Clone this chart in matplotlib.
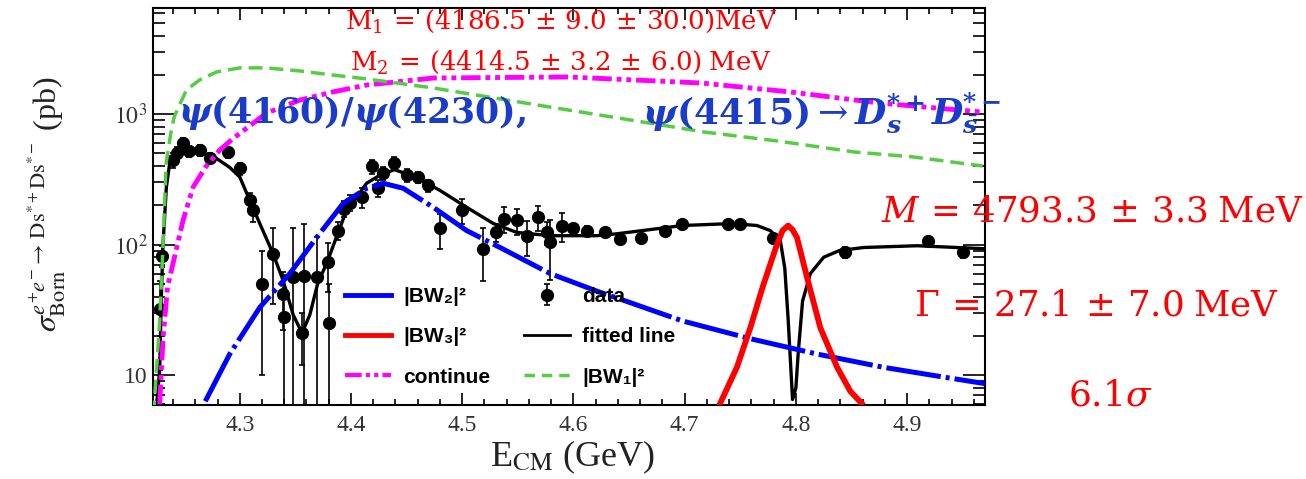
import numpy as np
import matplotlib
matplotlib.use('Agg')
import matplotlib.pyplot as plt
from matplotlib.lines import Line2D
from matplotlib.ticker import FixedLocator, FixedFormatter, NullFormatter

# ---------------- data ----------------
data_E = [4.228, 4.230, 4.240, 4.244, 4.249, 4.254, 4.264, 4.273, 4.289, 4.300,
          4.309, 4.312, 4.320, 4.330, 4.339, 4.340, 4.348, 4.356, 4.358, 4.369,
          4.379, 4.380, 4.388, 4.394, 4.399, 4.410, 4.419, 4.424, 4.429, 4.439,
          4.450, 4.460, 4.469, 4.480, 4.500, 4.519, 4.530, 4.538, 4.549, 4.558,
          4.568, 4.576, 4.579, 4.590, 4.600, 4.612, 4.628, 4.642, 4.661, 4.682,
          4.698, 4.739, 4.750, 4.779, 4.844, 4.919, 4.950]
data_sigma = [32, 82, 443, 501, 598, 520, 530, 459, 511, 384,
              218, 183, 50, 85, 42, 28, 56, 21, 57, 56,
              73, 25, 128, 189, 210, 230, 398, 270, 351, 420,
              340, 328, 284, 133, 183, 93, 124, 158, 153, 117,
              162, 124, 104, 140, 133, 128, 124, 111, 113, 128,
              145, 145, 145, 113, 87, 107, 87]
data_err = [21, 15, 60, 60, 60, 50, 50, 40, 50, 40,
            30, 35, 40, 50, 20, 30, 77, 9, 88, 58,
            30, 25, 20, 25, 30, 40, 50, 40, 40, 50,
            40, 30, 30, 40, 40, 40, 20, 35, 35, 35,
            35, 25, 50, 35, 10, 10, 10, 8, 8, 8,
            8, 8, 8, 8, 8, 8, 8]

fit_E = [4.2245, 4.228, 4.2295, 4.231, 4.234, 4.237, 4.246, 4.258, 4.267, 4.279,
         4.291, 4.300, 4.309, 4.318, 4.330, 4.339, 4.348, 4.356, 4.363, 4.370,
         4.379, 4.388, 4.396, 4.405, 4.414, 4.426, 4.439, 4.459, 4.480, 4.504,
         4.528, 4.549, 4.579, 4.621, 4.639, 4.698, 4.743, 4.765, 4.777, 4.786,
         4.790, 4.793, 4.7955, 4.797, 4.800, 4.802, 4.806, 4.813, 4.825, 4.839,
         4.861, 4.909, 4.969]
fit_sigma = [5, 11, 40, 100, 275, 420, 500, 510, 500, 458,
             390, 330, 218, 145, 85, 53, 29, 21, 29, 50,
             75, 121, 183, 230, 295, 340, 375, 328, 260, 193,
             145, 124, 117, 117, 121, 140, 145, 140, 128, 107,
             66, 27, 11, 6.5, 8, 14.5, 37, 60, 80, 90,
             95, 98, 93]

bw2_E = [4.269, 4.291, 4.318, 4.345, 4.369, 4.393, 4.414, 4.429, 4.447, 4.474,
         4.504, 4.534, 4.579, 4.621, 4.639, 4.698, 4.759, 4.819, 4.878, 4.938, 4.970]
bw2_sigma = [6.3, 14.5, 33, 60, 113, 207, 270, 295, 270, 193,
             128, 95, 60, 44, 39, 26, 19, 14.5, 11.5, 9.5, 8.6]

bw3_E = [4.732, 4.747, 4.759, 4.770, 4.782, 4.788, 4.793, 4.797, 4.801, 4.810,
         4.822, 4.837, 4.849, 4.859]
bw3_sigma = [6.1, 11.5, 23, 47, 95, 128, 140, 130, 113, 56,
             23, 11.5, 7.5, 6.1]

cont_E = [4.228, 4.231, 4.235, 4.242, 4.249, 4.258, 4.269, 4.282, 4.294, 4.324,
          4.354, 4.384, 4.414, 4.474, 4.595, 4.715, 4.795, 4.875, 4.968]
cont_sigma = [6.0, 19, 47, 85, 153, 275, 390, 530, 650, 1018,
              1280, 1480, 1670, 1890, 1925, 1730, 1477, 1215, 1036]

bw1_E = [4.2225, 4.228, 4.2307, 4.2338, 4.238, 4.241, 4.252, 4.264, 4.279, 4.300,
         4.324, 4.354, 4.384, 4.414, 4.474, 4.579, 4.657, 4.718, 4.784, 4.853,
         4.905, 4.968]
bw1_sigma = [5, 26, 85, 420, 715, 950, 1530, 1830, 2100, 2260,
             2260, 2140, 1990, 1860, 1585, 1132, 885, 728, 621, 512,
             470, 400]

xtick_vals = [4.3, 4.4, 4.5, 4.6, 4.7, 4.8, 4.9]
xtick_labels = ['4.3', '4.4', '4.5', '4.6', '4.7', '4.8', '4.9']
ytick_vals = [10, 100, 1000]
ytick_labels = ['10', r'$10^{2}$', r'$10^{3}$']

legend_labels = ['|BW\u2082|\u00b2', '|BW\u2083|\u00b2', 'continue',
                 'data', 'fitted line', '|BW\u2081|\u00b2']

# ---------------- figure ----------------
W, H = 1306, 479
fig = plt.figure(figsize=(W / 100, H / 100), dpi=100)
ax = fig.add_axes([153 / W, 1 - 405 / H, 832 / W, 397 / H])
ax.set_yscale('log')
ax.set_xlim(4.222, 4.970)
ax.set_ylim(5.9, 6500)

sig = np.array(data_sigma, dtype=float)
err = np.array(data_err, dtype=float)
err_lo = np.minimum(err, 0.97 * sig)
eb = ax.errorbar(data_E, data_sigma, yerr=[err_lo, err], fmt='o', color='black',
                 ms=8.5, elinewidth=1.2, capsize=2.5, capthick=1.2, zorder=3)
ax.plot(fit_E, fit_sigma, color='black', lw=2.4, zorder=4)
ax.plot(bw2_E, bw2_sigma, color='#0000ff', lw=3.6, dashes=(11, 1.0, 0.8, 1.0), zorder=5)
ax.plot(bw3_E, bw3_sigma, color='#ff0000', lw=4.2, zorder=6)
ax.plot(cont_E, cont_sigma, color='#ff00ff', lw=3.5, dashes=(4, 1, 1, 1, 1, 1), zorder=5)
ax.plot(bw1_E, bw1_sigma, color='#55cc44', lw=2.5, dashes=(4, 2), zorder=5)

# ticks
ax.xaxis.set_major_locator(FixedLocator(xtick_vals))
ax.xaxis.set_major_formatter(FixedFormatter(xtick_labels))
ax.xaxis.set_minor_locator(FixedLocator(np.arange(4.24, 4.97, 0.02)))
ax.yaxis.set_major_locator(FixedLocator(ytick_vals))
ax.yaxis.set_major_formatter(FixedFormatter(ytick_labels))
ymin_ticks = [6, 7, 8, 9] + [20, 30, 40, 50, 60, 70, 80, 90] + \
             [200, 300, 400, 500, 600, 700, 800, 900] + [2000, 3000, 4000, 5000, 6000]
ax.yaxis.set_minor_locator(FixedLocator(ymin_ticks))
ax.yaxis.set_minor_formatter(NullFormatter())
ax.tick_params(which='both', direction='in', top=True, right=True, width=1.2,
               colors='black', labelcolor='#333333')
ax.tick_params(axis='x', which='major', length=8.5, pad=7)
ax.tick_params(axis='x', which='minor', length=4.5)
ax.tick_params(axis='y', which='major', length=16, pad=4)
ax.tick_params(axis='y', which='minor', length=8.5)
for lab in ax.get_xticklabels() + ax.get_yticklabels():
    lab.set_fontfamily('Liberation Serif')
    lab.set_fontsize(17)
    lab.set_math_fontfamily('stix')
for s in ax.spines.values():
    s.set_linewidth(1.5)

# axis labels
ax.set_ylabel(r'$\sigma^{e^{+}e^{-}\rightarrow\,\mathrm{Ds}^{*+}\mathrm{Ds}^{*-}}_{\mathrm{Born}}$ (pb)',
              fontfamily='Liberation Serif', fontsize=23, math_fontfamily='stix',
              color='#222222')
ax.yaxis.set_label_coords(-0.102, 0.506)
xlab = ax.set_xlabel(r'E$_{\mathrm{CM}}$ (GeV)', fontfamily='Liberation Serif', fontsize=26,
                     math_fontfamily='stix', color='#222222')
xlab.set_va('baseline')
ax.xaxis.set_label_coords(0.504, -0.155)

# legend
h_bw2 = Line2D([], [], color='#0000ff', lw=3.5)
h_bw3 = Line2D([], [], color='#ff0000', lw=3.5)
h_cont = Line2D([], [], color='#ff00ff', lw=3.0, dashes=(4, 1, 1, 1, 1, 1))
h_fit = Line2D([], [], color='black', lw=2.0)
h_bw1 = Line2D([], [], color='#55cc44', lw=2.5, dashes=(3, 2))
leg = ax.legend([h_bw2, h_bw3, h_cont, eb, h_fit, h_bw1], legend_labels, ncol=2,
                loc='upper left', bbox_to_anchor=(0.2308, 0.297), frameon=False,
                borderpad=0, borderaxespad=0, handlelength=2.2, handletextpad=0.6,
                columnspacing=1.6, labelspacing=1.02,
                prop={'family': ['Liberation Sans', 'DejaVu Sans'], 'weight': 'bold', 'size': 15})

# annotations
red = '#ff0000'
blue = '#1a3cc8'
def ftext(cx, cy, s, size, color, mf='dejavuserif'):
    fig.text(cx / W, 1 - cy / H, s, ha='center', va='center', fontsize=size, color=color,
             fontfamily='DejaVu Serif', math_fontfamily=mf, zorder=20)

ftext(561, 21, r'$\mathrm{M_1\,=\,(4186.5\,\pm\,9.0\,\pm\,30.0)MeV}$', 18.7, red)
ftext(561, 62, r'$\mathrm{M_2\,=\,(4414.5\,\pm\,3.2\,\pm\,6.0)\;MeV}$', 18.7, red)
ftext(352, 113, r'$\mathbfit{\psi}\mathbf{(4160)/}\mathbfit{\psi}\mathbf{(4230),}$', 25, blue)
ftext(822, 113, r'$\mathbfit{\psi}\mathbf{(4415)}\rightarrow\mathbfit{D}_{\mathbfit{s}}^{\mathbf{*+}}\mathbfit{D}_{\bar{\mathbfit{s}}}^{\mathbf{*-}}$', 26, blue)
ftext(1092, 212, r'$M\,=\,\mathrm{4793.3\,\pm\,3.3\;MeV}$', 25.7, red)
ftext(1097, 305, r'$\Gamma\,=\,\mathrm{27.1\,\pm\,7.0\;MeV}$', 25.7, red)
ftext(1110, 395, r'$\mathrm{6.1}\sigma$', 26, red)

fig.savefig('out.png', dpi=100)
